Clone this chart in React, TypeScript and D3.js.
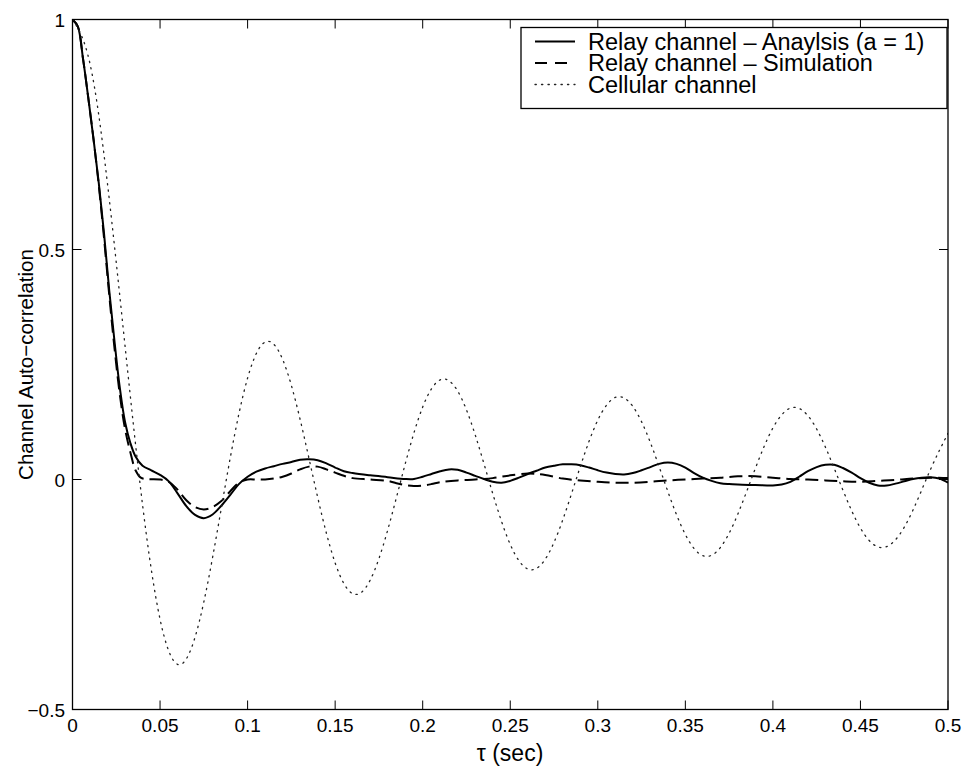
import React from "react";
import * as d3 from "d3";

// Time lags (s) and channel auto-correlation values
const relayAnalysisTau = [
  0, 0.003, 0.006, 0.009, 0.012, 0.015, 0.018, 0.021, 0.024, 0.027, 0.03, 0.033, 0.036, 0.04, 0.045,
  0.05, 0.055, 0.06, 0.065, 0.07, 0.075, 0.08, 0.085, 0.09, 0.095, 0.1, 0.105, 0.11, 0.115, 0.12,
  0.125, 0.13, 0.135, 0.14, 0.145, 0.15, 0.155, 0.16, 0.17, 0.18, 0.19, 0.195, 0.2, 0.205, 0.21,
  0.215, 0.22, 0.225, 0.23, 0.235, 0.24, 0.245, 0.25, 0.255, 0.26, 0.265, 0.27, 0.275, 0.28, 0.285,
  0.29, 0.295, 0.3, 0.305, 0.31, 0.315, 0.32, 0.325, 0.33, 0.335, 0.34, 0.345, 0.35, 0.355, 0.36,
  0.365, 0.37, 0.375, 0.38, 0.39, 0.4, 0.405, 0.41, 0.415, 0.42, 0.425, 0.43, 0.435, 0.44, 0.445,
  0.45, 0.455, 0.46, 0.465, 0.47, 0.475, 0.48, 0.485, 0.49, 0.495, 0.5,
];
const relayAnalysis = [
  1, 0.985, 0.915, 0.83, 0.74, 0.645, 0.535, 0.41, 0.3, 0.2, 0.125, 0.08, 0.05, 0.03, 0.02,
  0.01, -0.004, -0.03, -0.058, -0.077, -0.084, -0.076, -0.057, -0.034, -0.01, 0.006, 0.017, 0.024, 0.029, 0.034,
  0.038, 0.043, 0.044, 0.042, 0.035, 0.026, 0.018, 0.014, 0.009, 0.005, 0.001, 0.001, 0.006, 0.012, 0.018,
  0.022, 0.021, 0.015, 0.008, 0.001, -0.005, -0.007, -0.003, 0.004, 0.012, 0.019, 0.026, 0.03, 0.033, 0.033,
  0.031, 0.026, 0.02, 0.015, 0.012, 0.011, 0.014, 0.02, 0.027, 0.034, 0.037, 0.034, 0.026, 0.014, 0.004,
  -0.003, -0.008, -0.01, -0.011, -0.012, -0.013, -0.011, -0.005, 0.006, 0.018, 0.027, 0.032, 0.032, 0.025, 0.015,
  0.003, -0.007, -0.013, -0.013, -0.009, -0.004, 0.001, 0.004, 0.005, 0.002, -0.007,
];

const relaySimTau = [
  0, 0.003, 0.006, 0.009, 0.012, 0.015, 0.018, 0.021, 0.024, 0.027, 0.03, 0.033, 0.036, 0.039, 0.043,
  0.05, 0.055, 0.06, 0.065, 0.07, 0.075, 0.08, 0.085, 0.09, 0.095, 0.1, 0.105, 0.11, 0.115, 0.12,
  0.125, 0.13, 0.135, 0.14, 0.145, 0.15, 0.155, 0.16, 0.17, 0.18, 0.185, 0.19, 0.195, 0.2, 0.205,
  0.21, 0.22, 0.23, 0.24, 0.25, 0.26, 0.265, 0.27, 0.28, 0.29, 0.3, 0.31, 0.32, 0.33, 0.34,
  0.35, 0.36, 0.37, 0.38, 0.39, 0.4, 0.41, 0.42, 0.43, 0.44, 0.45, 0.46, 0.47, 0.48, 0.49, 0.5,
];
const relaySim = [
  1, 0.985, 0.915, 0.83, 0.74, 0.64, 0.525, 0.4, 0.285, 0.185, 0.11, 0.06, 0.02, 0.004, 0.001,
  0, -0.005, -0.022, -0.045, -0.06, -0.065, -0.06, -0.047, -0.026, -0.007, 0, 0, 0, 0.002, 0.006,
  0.013, 0.022, 0.028, 0.028, 0.022, 0.015, 0.008, 0.003, 0, -0.003, -0.008, -0.012, -0.014, -0.013, -0.01,
  -0.006, -0.002, 0, 0.003, 0.009, 0.013, 0.012, 0.01, 0.002, -0.002, -0.005, -0.007, -0.007, -0.005, -0.002,
  0, 0.002, 0.004, 0.007, 0.007, 0.004, 0.001, 0, -0.002, -0.004, -0.005, -0.003, -0.001, 0.002, 0.004, 0.003,
];

const cellularTau = [
  0, 0.01, 0.02, 0.03, 0.04, 0.05, 0.06, 0.07, 0.08, 0.09, 0.1, 0.11, 0.12, 0.13, 0.14, 0.15, 0.16,
  0.17, 0.18, 0.19, 0.2, 0.21, 0.22, 0.23, 0.24, 0.25, 0.26, 0.27, 0.28, 0.29, 0.3, 0.31, 0.32, 0.33,
  0.34, 0.35, 0.36, 0.37, 0.38, 0.39, 0.4, 0.41, 0.42, 0.43, 0.44, 0.45, 0.46, 0.47, 0.48, 0.49, 0.5,
];
const cellular = [
  1, 0.9037, 0.6425, 0.2906, -0.0547, -0.3038, -0.4018, -0.3427, -0.1695, 0.0452, 0.2206, 0.2989,
  0.2611, 0.1306, -0.0383, -0.1813, -0.2481, -0.2188, -0.1101, 0.0337, 0.1576, 0.2167, 0.1921, 0.0969,
  -0.0305, -0.1412, -0.1947, -0.1732, -0.0876, 0.028, 0.1291, 0.1784, 0.159, 0.0805, -0.026, -0.1196,
  -0.1656, -0.1479, -0.0749, 0.0244, 0.112, 0.1551, 0.1387, 0.0703, -0.0231, -0.1057, -0.1465, -0.1311,
  -0.0665, 0.0219, 0.1003,
];

const xTicks = [0, 0.05, 0.1, 0.15, 0.2, 0.25, 0.3, 0.35, 0.4, 0.45, 0.5];
const yTicks = [-0.5, 0, 0.5, 1];
const legendLabels = [
  "Relay channel – Anaylsis (a = 1)",
  "Relay channel – Simulation",
  "Cellular channel",
];

const W = 968;
const H = 771;
const FONT = "'Liberation Sans', Arial, Helvetica, sans-serif";

const fmtTick = (v: number) => {
  const s = String(v);
  return v < 0 ? "\u2212" + s.slice(1) : s;
};

export default function App() {
  const x = d3.scaleLinear().domain([0, 0.5]).range([72.5, 948]);
  const y = d3.scaleLinear().domain([-0.5, 1]).range([709.5, 19.5]);
  const [x0, x1] = x.range();
  const [yb, yt] = y.range();

  const line = d3
    .line<[number, number]>()
    .x((d) => x(d[0]))
    .y((d) => y(d[1]))
    .curve(d3.curveCatmullRom.alpha(0.5));

  const cellLine = d3
    .line<[number, number]>()
    .x((d) => x(d[0]))
    .y((d) => y(d[1]))
    .curve(d3.curveNatural);

  const zip = (a: number[], b: number[]) => a.map((t, i) => [t, b[i]] as [number, number]);

  const series = [
    { d: line(zip(relayAnalysisTau, relayAnalysis)), dash: undefined, w: 2, color: "#000" },
    { d: line(zip(relaySimTau, relaySim)), dash: "13 6", w: 2, color: "#000" },
    { d: cellLine(zip(cellularTau, cellular)), dash: "1.3 5.2", w: 1.3, color: "#222" },
  ];

  const tickLen = 9;
  const legend = { x: 521, y: 27.5, w: 426, h: 81 };
  const rowY = [41.5, 63, 84.5];

  return (
    <svg
      width={W}
      height={H}
      viewBox={`0 0 ${W} ${H}`}
      style={{ position: "absolute", left: 0, top: 0, display: "block", background: "#fff" }}
    >
      <defs>
        <clipPath id="plotClip">
          <rect x={x0} y={yt} width={x1 - x0} height={yb - yt} />
        </clipPath>
      </defs>
      <rect x={0} y={0} width={W} height={H} fill="#fff" />

      <g clipPath="url(#plotClip)">
        {series.map((s, i) => (
          <path
            key={i}
            d={s.d || ""}
            fill="none"
            stroke={s.color}
            strokeWidth={s.w}
            strokeDasharray={s.dash}
            strokeLinejoin="round"
            strokeLinecap={s.dash && s.w < 2 ? "round" : "butt"}
          />
        ))}
      </g>

      {/* axes box and inward ticks */}
      <rect x={x0} y={yt} width={x1 - x0} height={yb - yt} fill="none" stroke="#000" strokeWidth={1.3} />
      {xTicks.map((t) => (
        <g key={"xt" + t}>
          <line x1={x(t)} x2={x(t)} y1={yb} y2={yb - tickLen} stroke="#000" strokeWidth={1} />
          <line x1={x(t)} x2={x(t)} y1={yt} y2={yt + tickLen} stroke="#000" strokeWidth={1} />
          <text
            x={x(t)}
            y={732}
            textAnchor="middle"
            fontFamily={FONT}
            fontSize={19}
            fill="#000"
          >
            {fmtTick(t)}
          </text>
        </g>
      ))}
      {yTicks.map((t) => (
        <g key={"yt" + t}>
          <line x1={x0} x2={x0 + tickLen} y1={y(t)} y2={y(t)} stroke="#000" strokeWidth={1} />
          <line x1={x1} x2={x1 - tickLen} y1={y(t)} y2={y(t)} stroke="#000" strokeWidth={1} />
          <text
            x={65}
            y={y(t) + 7}
            textAnchor="end"
            fontFamily={FONT}
            fontSize={19}
            fill="#000"
          >
            {fmtTick(t)}
          </text>
        </g>
      ))}

      {/* axis titles */}
      <text x={510} y={761} textAnchor="middle" fontFamily={FONT} fontSize={23} fill="#000">
        τ (sec)
      </text>
      <text
        transform={`translate(33, ${(yt + yb) / 2}) rotate(-90)`}
        textAnchor="middle"
        fontFamily={FONT}
        fontSize={20.5}
        fill="#000"
      >
        Channel Auto−correlation
      </text>

      {/* legend */}
      <rect x={legend.x} y={legend.y} width={legend.w} height={legend.h} fill="#fff" stroke="#000" strokeWidth={1.3} />
      {legendLabels.map((lab, i) => (
        <g key={lab}>
          <line
            x1={535}
            x2={575}
            y1={rowY[i]}
            y2={rowY[i]}
            stroke={series[i].color}
            strokeWidth={series[i].w}
            strokeDasharray={i === 1 ? "12 8" : i === 2 ? "1.3 5.2" : undefined}
            strokeLinecap={i === 2 ? "round" : "butt"}
          />
          <text x={588} y={rowY[i] + 8} fontFamily={FONT} fontSize={23.5} fill="#000">
            {lab}
          </text>
        </g>
      ))}
    </svg>
  );
}
